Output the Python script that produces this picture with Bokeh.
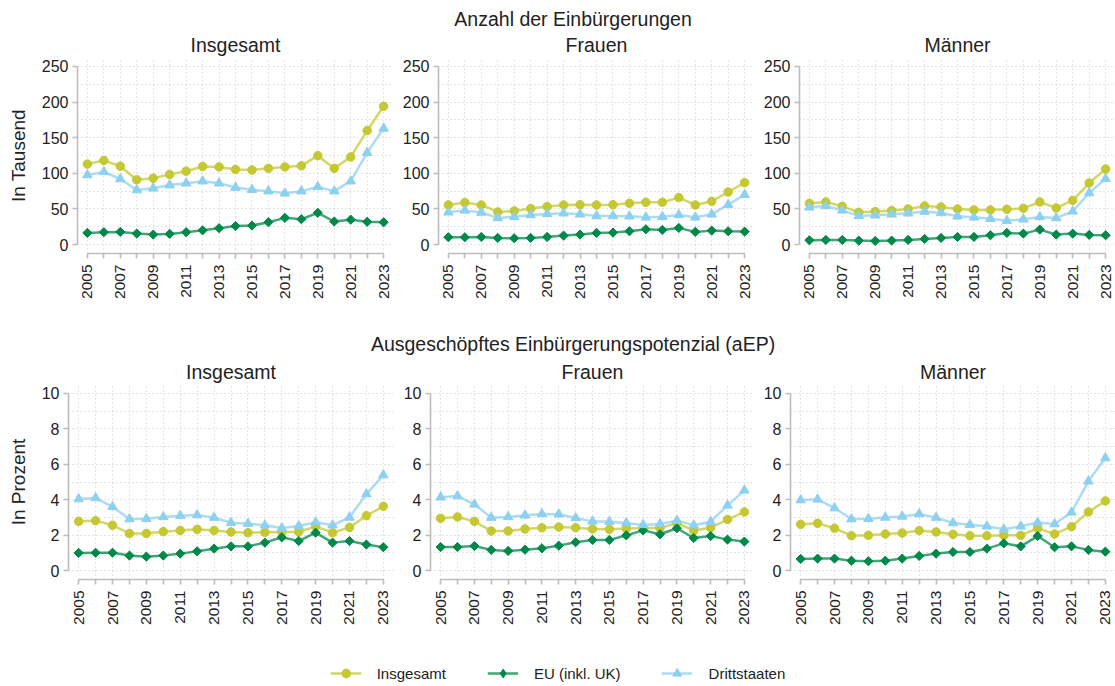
import math
from bokeh.plotting import figure
from bokeh.layouts import column, row
from bokeh.models import (FixedTicker, SingleIntervalTicker, Range1d, Label,
                          Legend, LegendItem)
from bokeh.embed import file_html
from bokeh.resources import INLINE

# ---------------- data ----------------
years = list(range(2005, 2024))

# Anzahl der Einbürgerungen, in Tausend
anz_insg_insg = [113, 118, 110, 91, 93, 98.5, 103, 109.5, 109, 105.5, 104.6, 107, 109, 110.5, 124.8, 107, 123, 160, 194]
anz_insg_eu = [16.4, 17.4, 17.8, 15.5, 14, 15, 17.4, 20, 23, 26, 26.7, 31.4, 37.5, 35.6, 44.6, 32.4, 35, 32, 31.3]
anz_insg_dritt = [97.6, 102, 92, 76.5, 79, 83.5, 86, 89, 86, 80, 77, 75, 72, 75, 81, 75, 89, 129, 163]

anz_frauen_insg = [55.6, 58.9, 55.6, 45.8, 47.2, 50.5, 53.3, 55.6, 56, 55.6, 56, 58, 59.3, 59.3, 65.9, 55.6, 60.7, 73.8, 86.9]
anz_frauen_eu = [10.3, 10.3, 10.7, 9.3, 8.9, 9.3, 10.7, 12.6, 14, 16.4, 16.8, 18.7, 21.5, 20.6, 23.4, 17.8, 19.6, 18.7, 18.2]
anz_frauen_dritt = [45.3, 48, 45, 37.4, 39, 41.6, 43, 44, 42.5, 40, 40, 39.7, 38.3, 39, 41.6, 38.3, 42.5, 56, 70]

anz_maenner_insg = [57.9, 59.8, 53.7, 45.3, 46.3, 47.7, 50, 54.2, 52.8, 50, 48.6, 48.6, 49.5, 50.9, 59.8, 51.4, 62.1, 86.4, 106]
anz_maenner_eu = [6.1, 6.5, 6.5, 5.6, 5.1, 5.6, 6.5, 7.9, 9.3, 10.7, 10.7, 13.1, 16.4, 15.4, 21, 14, 15.4, 13.6, 13.1]
anz_maenner_dritt = [52.3, 54.2, 48.1, 40.2, 41.1, 42.5, 43.9, 46.3, 44.4, 39.7, 38.3, 36.4, 33.6, 35.5, 38.8, 37.4, 46.7, 72.4, 92.5]

# Ausgeschöpftes Einbürgerungspotenzial, in Prozent
aep_insg_insg = [2.78, 2.82, 2.56, 2.1, 2.1, 2.2, 2.27, 2.33, 2.27, 2.18, 2.14, 2.16, 2.18, 2.18, 2.5, 2.14, 2.44, 3.1, 3.63]
aep_insg_eu = [1.0, 1.01, 1.01, 0.85, 0.79, 0.85, 0.96, 1.09, 1.24, 1.37, 1.37, 1.58, 1.88, 1.67, 2.14, 1.58, 1.67, 1.47, 1.32]
aep_insg_dritt = [4.04, 4.1, 3.6, 2.91, 2.93, 3.03, 3.1, 3.14, 2.99, 2.7, 2.65, 2.56, 2.4, 2.52, 2.73, 2.56, 3.0, 4.32, 5.39]

aep_frauen_insg = [2.95, 3.03, 2.78, 2.24, 2.24, 2.35, 2.42, 2.46, 2.42, 2.35, 2.33, 2.37, 2.4, 2.4, 2.69, 2.26, 2.42, 2.88, 3.31]
aep_frauen_eu = [1.33, 1.33, 1.39, 1.17, 1.11, 1.18, 1.26, 1.41, 1.6, 1.73, 1.73, 1.99, 2.27, 2.05, 2.39, 1.84, 1.95, 1.75, 1.64]
aep_frauen_dritt = [4.14, 4.21, 3.74, 2.99, 3.03, 3.12, 3.2, 3.18, 2.97, 2.78, 2.76, 2.69, 2.58, 2.63, 2.82, 2.56, 2.76, 3.68, 4.53]

aep_maenner_insg = [2.61, 2.67, 2.39, 1.97, 1.99, 2.07, 2.12, 2.26, 2.18, 2.05, 1.97, 1.97, 1.99, 1.99, 2.39, 2.07, 2.48, 3.31, 3.93]
aep_maenner_eu = [0.66, 0.68, 0.68, 0.56, 0.53, 0.56, 0.68, 0.83, 0.96, 1.05, 1.05, 1.24, 1.54, 1.37, 1.95, 1.32, 1.37, 1.17, 1.07]
aep_maenner_dritt = [3.98, 4.02, 3.53, 2.91, 2.93, 3.0, 3.06, 3.2, 2.99, 2.69, 2.59, 2.5, 2.33, 2.5, 2.71, 2.63, 3.29, 5.04, 6.35]

series_labels = ["Insgesamt", "EU (inkl. UK)", "Drittstaaten"]
panel_titles = ["Insgesamt", "Frauen", "Männer"]
block_titles = ["Anzahl der Einbürgerungen", "Ausgeschöpftes Einbürgerungspotenzial (aEP)"]
y_labels = ["In Tausend", "In Prozent"]
y_ticks_anz = [0, 50, 100, 150, 200, 250]
y_ticks_aep = [0, 2, 4, 6, 8, 10]

# ---------------- style ----------------
FONT = "Liberation Sans"
TXT = "#222222"
AXC = "#bdbdbd"
GRIDC = "#c8c8c8"
COLORS = ["#c4c932", "#00884a", "#8dd0ef"]
# panel markers: (marker, size, angle); the EU diamond is a square turned by 45°
MARKERS = [("circle", 8.5, 0.0), ("square", 6.5, math.pi / 4), ("triangle", 9.5, 0.0)]
# legend markers (legend glyphs ignore angle, so use the diamond marker there)
LEG_MARKERS = ["circle", "diamond", "triangle"]
TOTAL_W = 1115


def panel(title, data, yticks, grid_step, w, h, bl, br, bt, bb, ylabel=None):
    ymax = yticks[-1]
    pad = 0.05 * ymax
    p = figure(width=w, height=h, x_range=Range1d(2004.4, 2023.6),
               y_range=Range1d(-pad, ymax + pad), output_backend="svg",
               toolbar_location=None, min_border_left=bl, min_border_right=br,
               min_border_top=bt, min_border_bottom=bb, title=title)
    p.outline_line_color = None
    p.title.align = "center"
    p.title.text_font = FONT
    p.title.text_font_size = "19.5px"
    p.title.text_font_style = "normal"
    p.title.text_color = TXT
    p.title.standoff = 3

    # grids
    p.xgrid.ticker = SingleIntervalTicker(interval=1)
    p.ygrid.ticker = SingleIntervalTicker(interval=grid_step)
    for g in (p.xgrid, p.ygrid):
        g.grid_line_color = GRIDC
        g.grid_line_dash = "1 3"
        g.grid_line_width = 1

    # axes
    for ax in (p.xaxis, p.yaxis):
        ax.axis_line_color = AXC
        ax.axis_line_width = 1.6
        ax.major_tick_line_color = AXC
        ax.major_tick_line_width = 1.6
        ax.major_tick_out = 5
        ax.major_tick_in = 0
        ax.minor_tick_line_color = None
        ax.major_label_text_font = FONT
        ax.major_label_text_color = TXT
    p.yaxis.ticker = FixedTicker(ticks=yticks)
    p.yaxis.bounds = (yticks[0], yticks[-1])
    p.yaxis.major_label_text_font_size = "16px"
    p.yaxis.major_label_standoff = 4
    p.xaxis.ticker = FixedTicker(ticks=years)
    p.xaxis.bounds = (years[0], years[-1])
    p.xaxis.major_label_overrides = {y: ("" if (y - years[0]) % 2 else str(y)) for y in years}
    p.xaxis.major_label_orientation = math.pi / 2
    p.xaxis.major_label_text_font_size = "15.5px"
    p.xaxis.major_label_standoff = 6
    if ylabel:
        p.yaxis.axis_label = ylabel
        p.yaxis.axis_label_text_font = FONT
        p.yaxis.axis_label_text_font_size = "19px"
        p.yaxis.axis_label_text_font_style = "normal"
        p.yaxis.axis_label_text_color = TXT
        p.yaxis.axis_label_standoff = 10

    for vals, col, (mk, sz, ang) in zip(data, COLORS, MARKERS):
        p.line(years, vals, line_color=col, line_width=2.5, line_alpha=0.75)
        p.scatter(years, vals, marker=mk, size=sz, angle=ang, fill_color=col,
                  line_color=col, line_width=1)
    return p


def text_fig(txt, h, yfrac):
    p = figure(width=TOTAL_W, height=h, x_range=Range1d(0, 1), y_range=Range1d(0, 1),
               x_axis_type=None, y_axis_type=None, output_backend="svg",
               toolbar_location=None, min_border=0)
    p.outline_line_color = None
    p.add_layout(Label(x=0.5135, y=yfrac, text=txt, text_align="center",
                       text_baseline="middle", text_font=FONT,
                       text_font_size="19.5px", text_color=TXT))
    return p


top_data = [
    (anz_insg_insg, anz_insg_eu, anz_insg_dritt),
    (anz_frauen_insg, anz_frauen_eu, anz_frauen_dritt),
    (anz_maenner_insg, anz_maenner_eu, anz_maenner_dritt),
]
bot_data = [
    (aep_insg_insg, aep_insg_eu, aep_insg_dritt),
    (aep_frauen_insg, aep_frauen_eu, aep_frauen_dritt),
    (aep_maenner_insg, aep_maenner_eu, aep_maenner_dritt),
]

top_geo = [(399, 77, 6), (361, 39, 6), (355, 39, 0)]
bot_geo = [(400, 68, 7), (360, 29, 6), (355, 30, 0)]

top_figs = []
for i, (d, (w, bl, br)) in enumerate(zip(top_data, top_geo)):
    top_figs.append(panel(panel_titles[i], d, y_ticks_anz, 25, w, 300, bl, br, 27, 77,
                          y_labels[0] if i == 0 else None))
bot_figs = []
for i, (d, (w, bl, br)) in enumerate(zip(bot_data, bot_geo)):
    bot_figs.append(panel(panel_titles[i], d, y_ticks_aep, 1, w, 303, bl, br, 27, 81,
                          y_labels[1] if i == 0 else None))

# legend figure (renderers hold real data but lie outside the visible range)
lp = figure(width=TOTAL_W, height=26, x_range=Range1d(0, 1), y_range=Range1d(0, 1),
            x_axis_type=None, y_axis_type=None, output_backend="svg",
            toolbar_location=None, min_border=0)
lp.outline_line_color = None
items = []
for lab, col, mk, vals in zip(series_labels, COLORS, LEG_MARKERS, top_data[0]):
    lr = lp.line(years, vals, line_color=col, line_width=2.5, line_alpha=0.75)
    sr = lp.scatter(years, vals, marker=mk, size=9, fill_color=col,
                    line_color=col, line_width=1)
    items.append(LegendItem(label=lab, renderers=[lr, sr]))
leg = Legend(items=items, orientation="horizontal", location="center",
             label_text_font=FONT, label_text_font_size="15px", label_text_color=TXT,
             border_line_color=None, background_fill_alpha=0, padding=0, margin=0,
             spacing=41, label_standoff=16, glyph_width=31, glyph_height=22,
             label_height=22)
lp.add_layout(leg, "center")

layout = column(
    text_fig(block_titles[0], 30, 0.383),
    row(*top_figs),
    text_fig(block_titles[1], 27, 0.5),
    row(*bot_figs),
    lp,
)

open("out.html", "w").write(file_html(layout, INLINE))
